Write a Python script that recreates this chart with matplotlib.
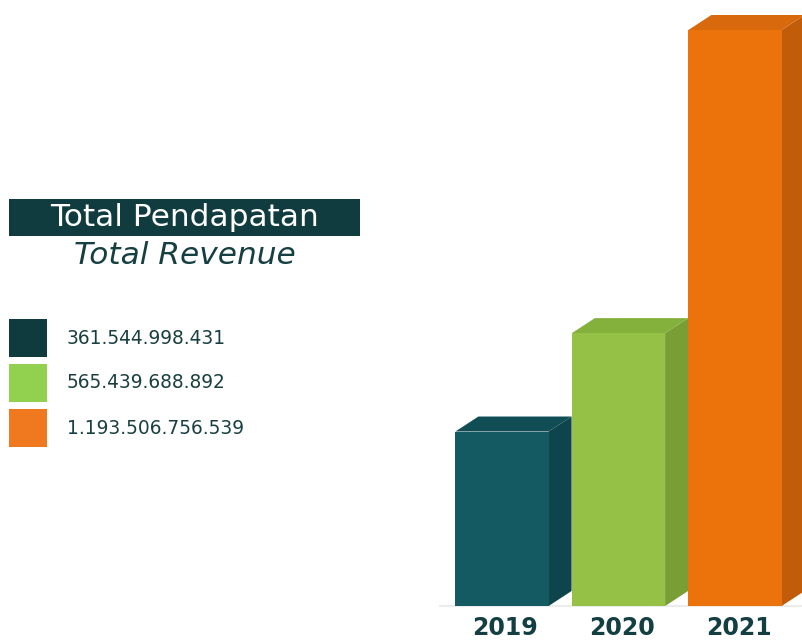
import matplotlib
matplotlib.use("Agg")
import matplotlib.pyplot as plt
from matplotlib.patches import Polygon, Rectangle

years = ["2019", "2020", "2021"]
revenue = [361544998431, 565439688892, 1193506756539]
value_labels = ["361.544.998.431", "565.439.688.892", "1.193.506.756.539"]
front_colors = ["#135a63", "#95c246", "#ec720c"]
side_colors = ["#0e444b", "#789e35", "#c05c0a"]
top_colors = ["#104d55", "#84b03c", "#d8690c"]
legend_colors = ["#0f3b3f", "#92d050", "#f07920"]
title_main = "Total Pendapatan"
title_sub = "Total Revenue"

W, H = 803, 644
fig = plt.figure(figsize=(W / 100, H / 100), dpi=100)
fig.patch.set_facecolor("white")

ax_left, ax_right, ax_bottom, ax_top = 400, 803, 606, 0
ax = fig.add_axes([ax_left / W, (H - ax_bottom) / H, (ax_right - ax_left) / W, (ax_bottom - ax_top) / H])
ax.set_axis_off()
px_per_cat = 116.5
center0 = 502
vmax = max(revenue)
px_per_val = 576 / vmax
ax.set_xlim((ax_left - center0) / px_per_cat, (ax_right - center0) / px_per_cat)
ax.set_ylim(0, (ax_bottom - ax_top) / px_per_val)

x = list(range(len(years)))
width = 0.8
dx = 23 / px_per_cat
dy = 15 / px_per_val

ax.plot([(440 - center0) / px_per_cat, (803 - center0) / px_per_cat], [0, 0],
        color="#ececec", lw=1.5, zorder=0, clip_on=False)

for i, (xi, v) in enumerate(zip(x, revenue)):
    l, r = xi - width / 2, xi + width / 2
    ax.add_patch(Polygon([(r, 0), (r + dx, dy), (r + dx, v + dy), (r, v)],
                         closed=True, facecolor=side_colors[i], edgecolor="none", zorder=1 + i))
    ax.add_patch(Polygon([(l, v), (l + dx, v + dy), (r + dx, v + dy), (r, v)],
                         closed=True, facecolor=top_colors[i], edgecolor="none", zorder=1 + i))
    ax.bar(xi, v, width=width, color=front_colors[i], zorder=1.5 + i)

for xi, yr in zip(x, years):
    ax.text(xi + 0.03, -10 / px_per_val, yr, ha="center", va="top", fontsize=17, fontweight="bold",
            color="#133f42", family="DejaVu Sans", clip_on=False)

fig.patches.append(Rectangle((9 / W, (H - 236) / H), (360 - 9) / W, (236 - 199) / H,
                             transform=fig.transFigure, facecolor="#113c3f", edgecolor="none"))
fig.text(185 / W, (H - 218) / H, title_main, ha="center", va="center", fontsize=22.5,
         color="white", family="DejaVu Sans")
fig.text(185 / W, (H - 256) / H, title_sub, ha="center", va="center", fontsize=22.5,
         color="#163f41", family="DejaVu Sans", style="italic")

for i, (c, lab) in enumerate(zip(legend_colors, value_labels)):
    top = 319 + i * 45
    fig.patches.append(Rectangle((9 / W, (H - (top + 38)) / H), 38 / W, 38 / H,
                                 transform=fig.transFigure, facecolor=c, edgecolor="none"))
    fig.text(67 / W, (H - (top + 19)) / H, lab, ha="left", va="center", fontsize=13.4,
             color="#1a3f40", family="DejaVu Sans")

fig.savefig("out.png", dpi=100, facecolor="white")
